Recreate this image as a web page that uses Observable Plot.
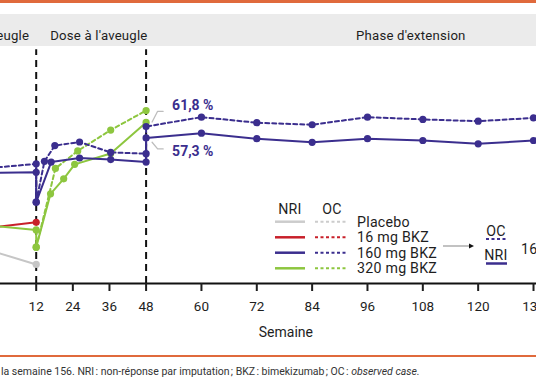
<!DOCTYPE html>
<html><head><meta charset="utf-8">
<script src="https://cdn.jsdelivr.net/npm/d3@7"></script>
<script src="https://cdn.jsdelivr.net/npm/@observablehq/plot@0.6"></script>
<style>
html,body{margin:0;padding:0;background:#fff;overflow:hidden;}
#wrap{position:relative;width:536px;height:386px;overflow:hidden;font-family:Roboto,sans-serif;color:#222;}
#topline{position:absolute;left:0;top:0;width:536px;height:3px;background:#e06a3c;}
#band{position:absolute;left:0;top:14px;width:536px;height:32px;background:#ebebeb;}
#chart{position:absolute;left:0;top:14px;}
#rule{position:absolute;left:0;top:355px;width:536px;height:2px;background:#e06a3c;}
#caption{position:absolute;left:1px;top:365px;font-size:10.5px;line-height:14px;white-space:nowrap;color:#333;}
#legend{position:absolute;left:0;top:0;pointer-events:none;}
</style></head>
<body>
<div id="wrap">
  <div id="topline"></div>
  <div id="band"></div>
  <div id="chart"></div>
  <div id="rule"></div>
  <div id="caption">la semaine 156. NRI&#8239;: non-réponse par imputation&#8239;; BKZ&#8239;: bimekizumab&#8239;; OC&#8239;: <i>observed case.</i></div>
</div>
<script>
// ---- data ----
const placeboWeeks = [8, 12];
const placeboNRI = [12.9, 7.5];
const bkz16Weeks = [8, 12];
const bkz16NRI = [22.0, 24.1];
const bkz320NRIWeeks = [8, 12, 12, 16.7, 21.0, 24.6, 36.4, 48];
const bkz320NRI = [22.8, 21.1, 14.3, 35.3, 41.2, 46.9, 51.2, 63.4];
const bkz320OCWeeks = [12, 18.3, 25.6, 36.4, 48];
const bkz320OC = [14.3, 45.3, 52.2, 60.4, 68.1];
const bkz160NRIWeeks = [8, 12, 12, 16.9, 26.2, 36.4, 48, 48, 60, 72, 84, 96, 108, 120, 132, 144, 156];
const bkz160NRI = [43.5, 43.8, 32.0, 47.8, 49.4, 48.8, 47.8, 57.3, 59.2, 57.0, 55.6, 57.0, 56.3, 55.0, 56.3, 55.8, 56.0];
const bkz160OCWeeks = [8, 12, 12, 14.7, 18.1, 26.2, 36.4, 48, 48, 60, 72, 84, 96, 108, 120, 132, 144, 156];
const bkz160OC = [45.5, 47.1, 32.0, 48.1, 54.3, 55.7, 51.6, 51.1, 61.8, 65.5, 63.3, 62.5, 65.5, 64.6, 63.9, 65.2, 64.8, 65.0];

const tickWeeks = [12, 24, 36, 48, 60, 72, 84, 96, 108, 120, 132, 144, 156];
const phaseDividers = [12, 48];
const phaseLabels = ["Double aveugle", "Dose à l'aveugle", "Phase d'extension"];
const annotations = [
  {value: 61.8, label: "61,8 %", side: "above"},
  {value: 57.3, label: "57,3 %", side: "below"}
];
const legendGroups = ["Placebo", "16 mg BKZ", "160 mg BKZ", "320 mg BKZ"];
const legendHeaders = ["NRI", "OC"];

// ---- styles ----
const BLUE = "#3b2e8e", GREEN = "#8dc63f", RED = "#c8202a", GRAY = "#c6c6c6";
const groupColors = [GRAY, RED, BLUE, GREEN];

const toRows = (weeks, vals) => weeks.map((w, i) => ({week: w, value: vals[i]}));
const series = [
  {rows: toRows(placeboWeeks, placeboNRI), color: GRAY, dash: null},
  {rows: toRows(bkz16Weeks, bkz16NRI), color: RED, dash: null},
  {rows: toRows(bkz320NRIWeeks, bkz320NRI), color: GREEN, dash: null},
  {rows: toRows(bkz320OCWeeks, bkz320OC), color: GREEN, dash: "4,3"},
  {rows: toRows(bkz160NRIWeeks, bkz160NRI), color: BLUE, dash: null},
  {rows: toRows(bkz160OCWeeks, bkz160OC), color: BLUE, dash: "4,3"}
];

const leaders = annotations.flatMap((a, i) => {
  const s = a.side === "above" ? 1 : -1;
  const near = a.side === "above" ? 1.8 : 1.7;
  const far = a.side === "above" ? 6.0 : 4.3;
  return [
    {id: i, week: 49.3, value: a.value + s * near},
    {id: i, week: 50.5, value: a.value + s * far},
    {id: i, week: 51.7, value: a.value + s * far}
  ];
});

const marks = [
  Plot.ruleX(phaseDividers, {x: d => d, y1: 0, y2: 92, stroke: "#111", strokeWidth: 2, strokeDasharray: "7,5"}),
  Plot.ruleY([0], {stroke: "#111", strokeWidth: 2}),
  Plot.axisX(tickWeeks, {tickSize: 8, tickPadding: 10, fontSize: 13.5, strokeWidth: 2, tickFormat: d => String(d), label: null}),
  Plot.text(["Semaine"], {x: () => 78.3, frameAnchor: "bottom", dy: 53, fontSize: 14, text: d => d}),
  Plot.text([phaseLabels[0]], {x: () => 12, frameAnchor: "top", dy: -24.4, dx: -7, textAnchor: "end", fontSize: 13.2, text: d => d}),
  Plot.text([phaseLabels[1]], {x: () => 12, frameAnchor: "top", dy: -24.4, dx: 14, textAnchor: "start", fontSize: 13.2, text: d => d}),
  Plot.text([phaseLabels[2]], {x: () => 105.4, frameAnchor: "top", dy: -24.4, textAnchor: "middle", fontSize: 13.2, text: d => d})
];
for (const s of series) {
  marks.push(Plot.line(s.rows, {x: "week", y: "value", stroke: s.color, strokeWidth: 2, strokeDasharray: s.dash || undefined}));
}
for (const s of series) {
  marks.push(Plot.dot(s.rows, {x: "week", y: "value", r: 3.6, fill: s.color}));
}
marks.push(Plot.line(leaders, {x: "week", y: "value", z: "id", stroke: "#bdbdbd", strokeWidth: 1.3}));
marks.push(Plot.text(annotations.filter(a => a.side === "above"), {x: () => 48, y: "value", text: "label", dx: 26, dy: -21, textAnchor: "start", fill: BLUE, fontWeight: "bold", fontSize: 14}));
marks.push(Plot.text(annotations.filter(a => a.side === "below"), {x: () => 48, y: "value", text: "label", dx: 26, dy: 13.5, textAnchor: "start", fill: BLUE, fontWeight: "bold", fontSize: 14}));

const chart = Plot.plot({
  width: 536, height: 338,
  marginLeft: 0, marginRight: 0, marginTop: 40.4, marginBottom: 69,
  style: {background: "transparent", overflow: "hidden", fontFamily: "Roboto, sans-serif", color: "#1e1e1e"},
  x: {type: "linear", domain: [0, 12, 48, 156], range: [-100, 35.7, 145.6, 643.7]},
  y: {domain: [0, 90], axis: null},
  marks
});
d3.select(chart).selectAll("text").filter(function() { return phaseLabels.includes(this.textContent); })
  .attr("letter-spacing", "0.2px");
document.getElementById("chart").appendChild(chart);

// ---- legend ----
const lg = d3.select("#wrap").append("svg").attr("id", "legend").attr("width", 536).attr("height", 386)
  .style("font-family", "Roboto, sans-serif").style("font-size", "14.2px").style("letter-spacing", "0.25px").style("fill", "#1e1e1e");
lg.append("text").attr("x", 290).attr("y", 209).attr("text-anchor", "middle").attr("dominant-baseline", "central").text(legendHeaders[0]);
lg.append("text").attr("x", 332).attr("y", 209).attr("text-anchor", "middle").attr("dominant-baseline", "central").text(legendHeaders[1]);
const rowY = [221.7, 237.3, 252.7, 268.3];
legendGroups.forEach((g, i) => {
  const c = i === 0 ? "#cccccc" : groupColors[i];
  lg.append("line").attr("x1", 275).attr("x2", 305).attr("y1", rowY[i]).attr("y2", rowY[i]).attr("stroke", c).attr("stroke-width", 2.5);
  lg.append("line").attr("x1", 315).attr("x2", 347).attr("y1", rowY[i]).attr("y2", rowY[i]).attr("stroke", c).attr("stroke-width", 2).attr("stroke-dasharray", "3,2.5");
  lg.append("text").attr("x", 357).attr("y", rowY[i]).attr("dominant-baseline", "central").text(g);
});
lg.append("line").attr("x1", 443).attr("x2", 470).attr("y1", 246).attr("y2", 246).attr("stroke", "#999").attr("stroke-width", 1.2);
lg.append("path").attr("d", "M469,243.5L474,246L469,248.5Z").attr("fill", "#111");
lg.append("text").attr("x", 496).attr("y", 231).attr("text-anchor", "middle").attr("dominant-baseline", "central").text(legendHeaders[1]);
lg.append("line").attr("x1", 486).attr("x2", 507).attr("y1", 239).attr("y2", 239).attr("stroke", BLUE).attr("stroke-width", 2).attr("stroke-dasharray", "3,2.5");
lg.append("text").attr("x", 496).attr("y", 255).attr("text-anchor", "middle").attr("dominant-baseline", "central").text(legendHeaders[0]);
lg.append("line").attr("x1", 486).attr("x2", 507).attr("y1", 263.5).attr("y2", 263.5).attr("stroke", BLUE).attr("stroke-width", 2.5);
lg.append("text").attr("x", 521).attr("y", 249).attr("dominant-baseline", "central").text(legendGroups[2]);
</script>
</body></html>
